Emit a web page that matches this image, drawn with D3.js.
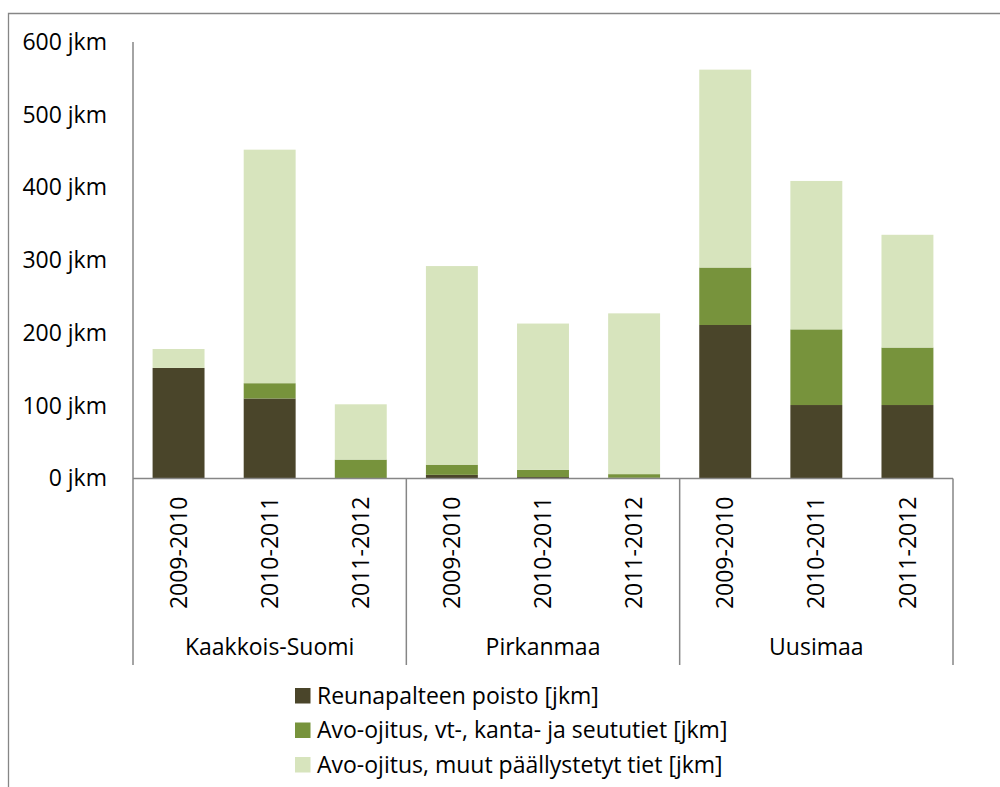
<!DOCTYPE html>
<html><head><meta charset="utf-8">
<script src="https://cdn.jsdelivr.net/npm/d3@7"></script>
<style>
html,body{margin:0;padding:0;background:#fff;}
text{font-family:"Open Sans","Noto Sans",sans-serif;fill:#000;}
</style></head>
<body>
<svg id="chart" width="1000" height="787"></svg>
<script>
const groups = ["Kaakkois-Suomi", "Pirkanmaa", "Uusimaa"];
const periods = ["2009-2010", "2010-2011", "2011-2012"];
const seriesNames = ["Reunapalteen poisto [jkm]", "Avo-ojitus, vt-, kanta- ja seututiet [jkm]", "Avo-ojitus, muut päällystetyt tiet [jkm]"];
// values per group x period, order as groups then periods
const reunapalteen = [152, 110, 0, 5, 2, 1, 211, 101, 101];
const avoVt = [0, 21, 26, 14, 10, 5, 79, 104, 79];
const avoMuut = [26, 321, 76, 273, 201, 221, 272, 204, 155];
const yTicks = [0, 100, 200, 300, 400, 500, 600];
const colors = ["#4a452a", "#77933c", "#d7e4bd"];

(function(){
const FS = 23;
const svg = d3.select("#chart");
const pLeft = 133, pRight = 953, pTop = 42, pBottom = 478.5;

svg.append("path").attr("d", "M8.5,787 V13.5 H1000").attr("fill","none").attr("stroke","#868686").attr("stroke-width",1.3);

const cats = [];
groups.forEach(g => periods.forEach(p => cats.push(g + "|" + p)));
const data = cats.map((c, i) => ({key: c, group: c.split("|")[0], period: c.split("|")[1],
  s0: reunapalteen[i], s1: avoVt[i], s2: avoMuut[i]}));

const x = d3.scaleBand().domain(cats).range([pLeft, pRight]).paddingInner(0.43).paddingOuter(0.215);
const y = d3.scaleLinear().domain([0, 600]).range([pBottom, pTop]);

const stack = d3.stack().keys(["s0","s1","s2"])(data);
svg.append("g").selectAll("g").data(stack).join("g")
  .attr("fill", (d,i) => colors[i])
  .selectAll("rect").data(d => d).join("rect")
  .attr("x", d => x(d.data.key))
  .attr("width", x.bandwidth())
  .attr("y", d => y(d[1]))
  .attr("height", d => Math.max(0, y(d[0]) - y(d[1])));

const yAxis = d3.axisLeft(y).tickValues(yTicks).tickSize(0).tickPadding(26).tickFormat(d => d + " jkm");
const gy = svg.append("g").attr("transform", `translate(${pLeft},0)`).call(yAxis);
gy.select(".domain").remove();
gy.selectAll("text").attr("font-size", FS).attr("font-family", '"Open Sans",sans-serif');

const axisColor = "#868686";
svg.append("line").attr("x1", pLeft).attr("x2", pLeft).attr("y1", pTop).attr("y2", 665).attr("stroke", axisColor).attr("stroke-width", 1.5);
svg.append("line").attr("x1", pLeft).attr("x2", pRight).attr("y1", pBottom).attr("y2", pBottom).attr("stroke", axisColor).attr("stroke-width", 1.5);

const groupScale = d3.scaleBand().domain(groups).range([pLeft, pRight]);
groups.forEach(g => {
  const gxp = groupScale(g) + groupScale.bandwidth();
  svg.append("line").attr("x1", gxp).attr("x2", gxp).attr("y1", pBottom).attr("y2", 665).attr("stroke", axisColor).attr("stroke-width", 1.5);
});

const xAxis = d3.axisBottom(x).tickSize(0).tickFormat(d => d.split("|")[1]);
const gx = svg.append("g").attr("transform", `translate(0,${pBottom})`).call(xAxis);
gx.select(".domain").remove();
gx.selectAll("text")
  .attr("font-size", FS)
  .attr("text-anchor", "end")
  .attr("dy", "0.35em")
  .attr("transform", "translate(0,18) rotate(-90)")
  .attr("x", 0).attr("y", 0);

svg.append("g").selectAll("text").data(groups).join("text")
  .attr("x", g => groupScale(g) + groupScale.bandwidth()/2)
  .attr("y", 655)
  .attr("text-anchor", "middle")
  .attr("font-size", FS)
  .text(g => g);

const leg = svg.append("g").attr("transform", "translate(295,0)");
const legY = [695.5, 730, 764.5];
seriesNames.forEach((n, i) => {
  leg.append("rect").attr("x", 0).attr("y", legY[i] - 7.5).attr("width", 15.5).attr("height", 15.5).attr("fill", colors[i]);
  leg.append("text").attr("x", 22).attr("y", legY[i]).attr("dy", "0.35em").attr("font-size", FS).text(n);
});
})();
</script>
</body></html>
